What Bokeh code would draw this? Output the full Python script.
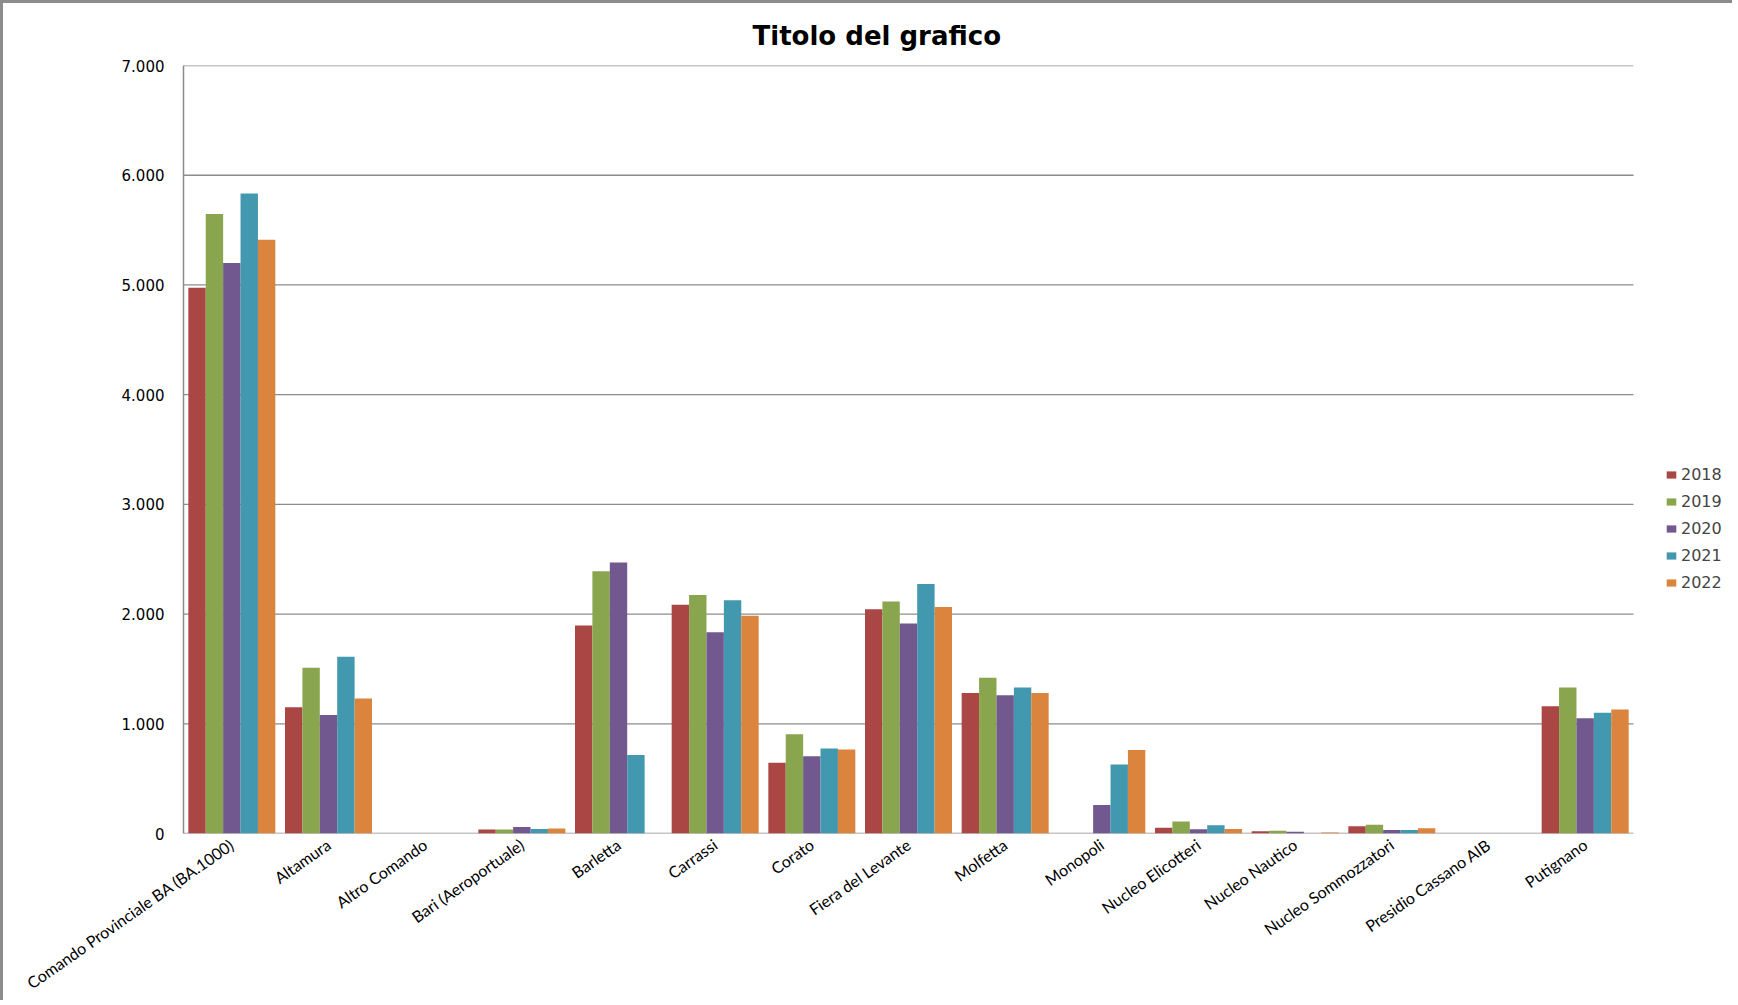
import numpy as np
from bokeh.plotting import figure
from bokeh.models import ColumnDataSource, Legend, LegendItem, FixedTicker, Range1d
from bokeh.embed import file_html
from bokeh.resources import INLINE

categories = ["Comando Provinciale BA (BA.1000)", "Altamura", "Altro Comando", "Bari (Aeroportuale)",
              "Barletta", "Carrassi", "Corato", "Fiera del Levante", "Molfetta", "Monopoli",
              "Nucleo Elicotteri", "Nucleo Nautico", "Nucleo Sommozzatori", "Presidio Cassano AIB", "Putignano"]
years = ["2018", "2019", "2020", "2021", "2022"]
v2018 = [4975, 1150, 0, 36, 1895, 2085, 645, 2045, 1280, 0, 52, 21, 67, 0, 1160]
v2019 = [5648, 1510, 0, 36, 2390, 2175, 905, 2115, 1420, 0, 109, 24, 79, 0, 1330]
v2020 = [5200, 1080, 0, 60, 2470, 1835, 705, 1915, 1260, 260, 39, 15, 33, 0, 1050]
v2021 = [5834, 1610, 0, 42, 715, 2125, 775, 2275, 1330, 630, 76, 0, 33, 0, 1100]
v2022 = [5412, 1230, 0, 45, 0, 1985, 765, 2065, 1280, 760, 42, 10, 48, 0, 1130]
y_ticks = [0, 1000, 2000, 3000, 4000, 5000, 6000, 7000]
y_tick_labels = ["0", "1.000", "2.000", "3.000", "4.000", "5.000", "6.000", "7.000"]
colors = ["#AA4643", "#89A54E", "#71588F", "#4198AF", "#DB843D"]
series = [v2018, v2019, v2020, v2021, v2022]

# layout constants (pixels)
W, H = 1732, 1000
LEFT, RIGHT, TOP, BOTTOM = 180, 2, 61, 160
CAT_PX = 1450 / len(categories)
frame_w = W - LEFT - RIGHT
x_end = -0.5 + frame_w / CAT_PX

n = len(categories)
pos = np.arange(n)

p = figure(x_range=Range1d(-0.5, x_end), y_range=Range1d(0, 7000.5),
           width=W, height=H, output_backend="svg", toolbar_location=None,
           min_border_left=LEFT, min_border_right=RIGHT, min_border_top=TOP, min_border_bottom=BOTTOM)
p.styles = {"border-left": "3px solid #8c8c8c", "border-top": "3px solid #8c8c8c"}

p.title.text = "Titolo del grafico"
p.title.align = "left"
p.title.offset = 569
p.title.text_font = "DejaVu Sans"
p.title.text_font_style = "bold"
p.title.text_font_size = "26px"
p.title.text_color = "#000000"
p.title.standoff = 30

# horizontal grid lines across the category area only
p.segment(x0=[-0.5] * len(y_ticks), x1=[n - 0.5] * len(y_ticks), y0=y_ticks, y1=y_ticks,
          line_color="#8c8c8c", line_width=1.3)

offsets = [-0.36, -0.18, 0.0, 0.18, 0.36]
items = []
for yr, off, col, vals in zip(years, offsets, colors, series):
    src = ColumnDataSource(dict(x=pos + off, top=vals))
    r = p.vbar(x="x", top="top", width=0.18, source=src,
               fill_color=col, line_color=None)
    items.append(LegendItem(label=yr, renderers=[r]))

legend = Legend(items=items, location=(1482, 241), orientation="vertical",
                glyph_width=12, glyph_height=9, label_height=17, label_text_font="DejaVu Sans",
                label_text_font_size="16px", label_standoff=4, spacing=8,
                padding=0, margin=0, border_line_color=None, background_fill_alpha=0)
p.add_layout(legend, "center")

p.outline_line_color = None
p.xgrid.grid_line_color = None
p.ygrid.grid_line_color = None
p.yaxis.ticker = FixedTicker(ticks=y_ticks)
p.yaxis.major_label_overrides = {t: l for t, l in zip(y_ticks, y_tick_labels)}
p.yaxis.major_tick_line_color = None
p.yaxis.major_tick_out = 0
p.yaxis.major_tick_in = 0
p.yaxis.minor_tick_line_color = None
p.yaxis.axis_line_color = "#8c8c8c"
p.yaxis.axis_line_width = 1.5
p.yaxis.major_label_text_font = "DejaVu Sans"
p.yaxis.major_label_text_font_size = "15px"
p.yaxis.major_label_text_color = "#000000"
p.yaxis.major_label_standoff = 19

p.xaxis.ticker = FixedTicker(ticks=list(range(n)))
p.xaxis.major_label_overrides = {i: c for i, c in enumerate(categories)}
p.xaxis.axis_line_color = None
p.xaxis.major_tick_line_color = None
p.xaxis.major_tick_out = 0
p.xaxis.major_tick_in = 0
p.xaxis.minor_tick_line_color = None
p.xaxis.major_label_orientation = 0.61
p.xaxis.major_label_text_font = "Lato"
p.xaxis.major_label_text_font_size = "16px"
p.xaxis.major_label_text_color = "#000000"
p.xaxis.major_label_standoff = 9

open("out.html", "w").write(file_html(p, INLINE))
